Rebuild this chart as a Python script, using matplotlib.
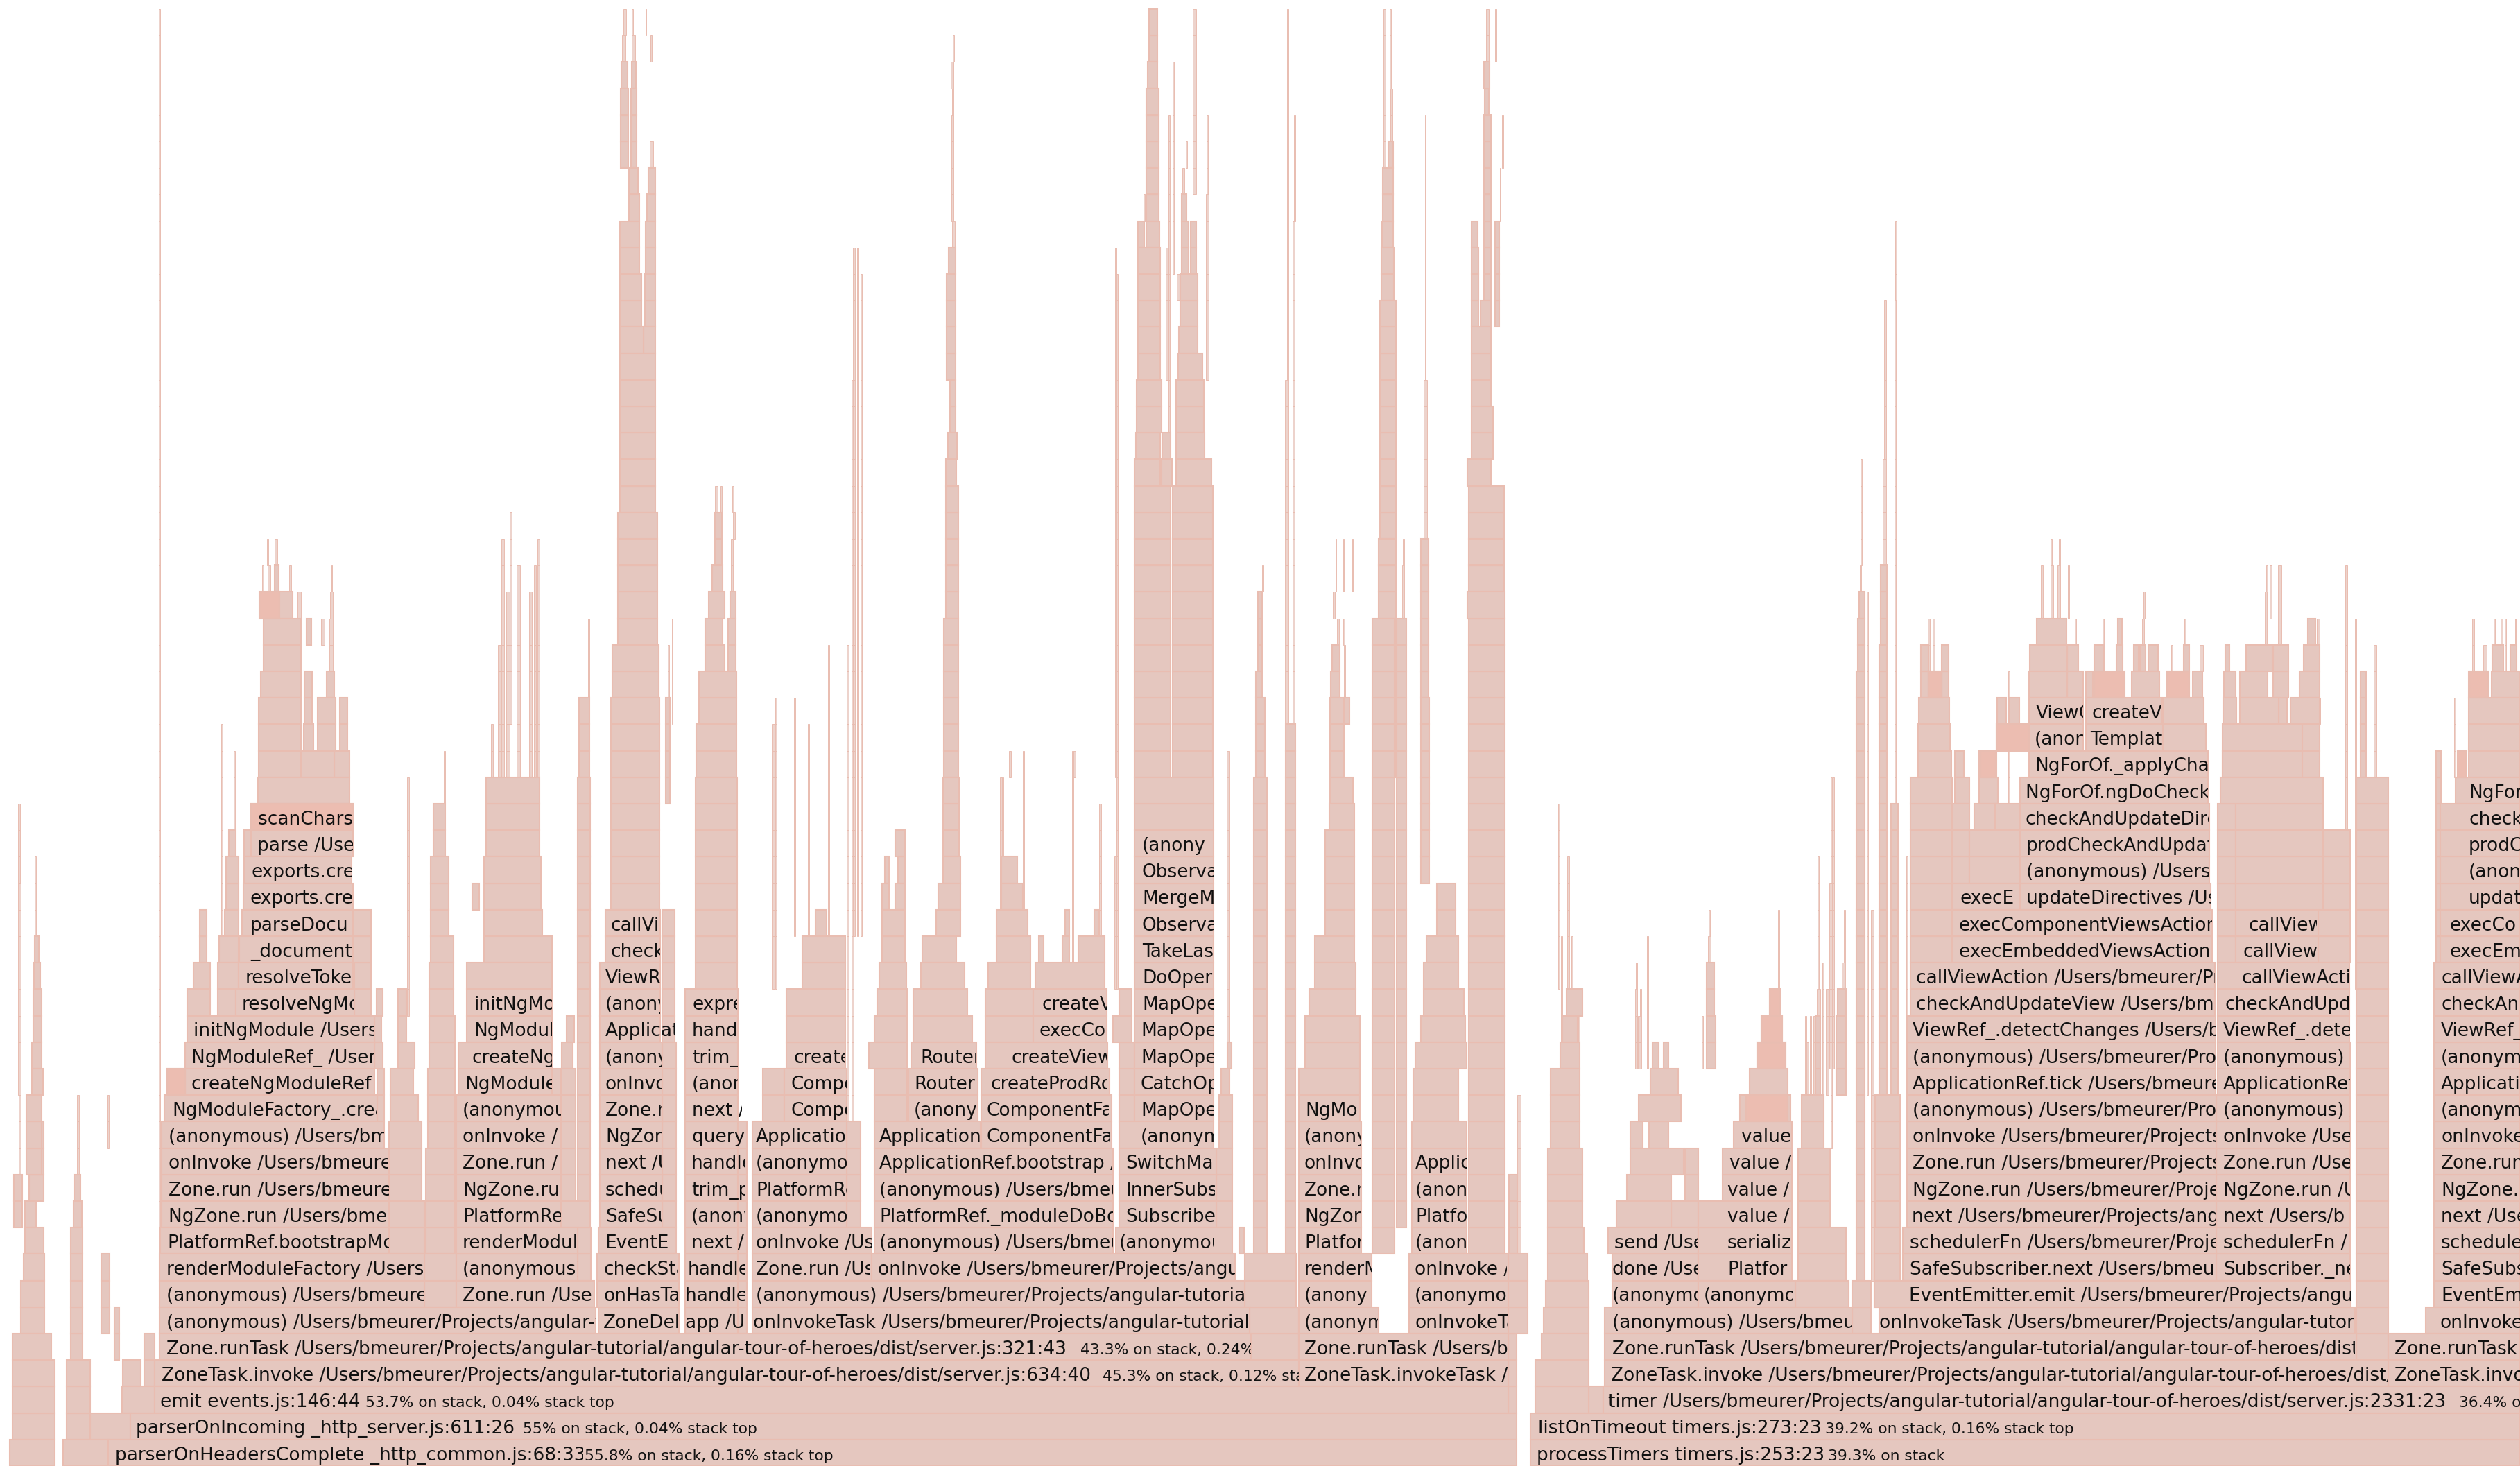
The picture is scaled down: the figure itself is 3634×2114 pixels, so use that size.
#!/usr/bin/env python3
# Flame graph of a node server profile, frames.
# A frame run is (start sample, end sample, lowest depth, highest depth).

import matplotlib
matplotlib.use("Agg")
import matplotlib.pyplot as plt
from matplotlib.patches import Rectangle

TOTAL_SAMPLES = 3634
ROW_PX = 38.2
FILL = "#e5c7bf"
EDGE = "#e9bdb1"
SPIKE = "#edd3cc"
HOT = "#ecbdb1"

##! base of the stack
base_frames = [
    (156, 2187, 0, 0), (91, 156, 0, 0), (14, 79, 0, 0), (2207, 3634, 0, 0),
    (188, 2187, 1, 1), (96, 130, 1, 1), (130, 188, 1, 1), (18, 79, 1, 3), (2207, 3634, 1, 1),
    (223, 2175, 2, 2), (2175, 2187, 2, 2), (176, 223, 2, 2), (96, 130, 2, 3), (2312, 3634, 2, 2),
    (2214, 2291, 2, 3), (2291, 2312, 2, 2),
    (223, 1873, 3, 3), (1873, 2175, 3, 3), (177, 203, 3, 3), (208, 223, 3, 4),
    (2314, 3444, 3, 3), (3444, 3634, 3, 3), (2175, 2187, 3, 4),
    (230, 1804, 4, 4), (1804, 1873, 4, 4), (1873, 2175, 4, 4), (2314, 3398, 4, 4),
    (3398, 3444, 4, 4), (3444, 3634, 4, 4), (2223, 2291, 4, 4), (2175, 2203, 5, 7),
    (18, 74, 4, 4), (102, 119, 4, 8), (165, 172, 4, 5), (1802, 1873, 5, 5),
    (2226, 2291, 5, 5), (2229, 2291, 6, 6), (2232, 2289, 7, 7), (2232, 2284, 8, 8),
    (2232, 2282, 9, 11), (2236, 2278, 12, 14), (2250, 2278, 15, 15), (2253, 2275, 16, 16), (2259, 2282, 17, 17),
    (30, 64, 5, 6), (34, 64, 7, 7), (36, 63, 8, 8), (20, 32, 9, 10), (36, 52, 9, 9),
    (42, 63, 10, 12), (38, 60, 11, 13), (46, 62, 14, 14), (46, 60, 15, 15), (48, 60, 16, 17),
    (49, 58, 18, 18), (50, 56, 19, 19), (50, 52, 20, 22), (26, 29, 14, 24), (27, 30, 10, 21),
    (146, 158, 5, 7), (106, 118, 8, 9), (107, 116, 10, 10), (111, 114, 11, 13), (155, 157, 12, 13),
]

##! bootstrap tower on the left
bootstrap_frames = [
    (230, 859, 5, 5), (230, 612, 6, 7), (612, 658, 6, 7), (658, 857, 6, 6), (658, 833, 7, 8),
    (833, 852, 7, 8), (231, 561, 8, 8), (561, 612, 8, 9), (614, 656, 8, 11),
    (233, 561, 9, 11), (658, 809, 9, 13), (809, 851, 9, 9), (561, 608, 10, 12),
    (617, 656, 12, 14), (809, 830, 10, 14), (833, 851, 10, 25), (233, 554, 12, 12),
    (237, 544, 13, 13), (544, 554, 13, 14), (563, 603, 13, 13), (563, 596, 14, 14),
    (241, 267, 14, 14), (267, 540, 14, 15), (540, 552, 15, 15), (574, 598, 15, 15),
    (661, 796, 14, 15), (796, 809, 14, 14), (810, 826, 15, 15), (619, 656, 15, 16),
    (270, 540, 16, 16), (540, 550, 16, 16), (574, 586, 16, 17), (673, 796, 16, 17),
    (817, 828, 16, 16), (270, 303, 17, 17), (314, 340, 17, 17), (340, 511, 17, 17),
    (511, 535, 17, 18), (543, 552, 17, 17), (619, 654, 17, 18), (279, 303, 18, 18),
    (314, 344, 18, 18), (344, 509, 18, 18), (673, 796, 18, 18), (288, 298, 19, 20),
    (316, 344, 19, 19), (345, 509, 19, 19), (509, 535, 19, 20), (621, 654, 19, 19), (698, 796, 19, 19),
    (324, 344, 20, 20), (349, 509, 20, 20), (621, 647, 20, 21), (698, 782, 20, 20), (681, 691, 21, 21),
    (326, 344, 21, 21), (351, 509, 21, 21), (698, 780, 21, 22), (326, 344, 22, 22), (352, 507, 22, 22),
    (621, 647, 22, 22), (330, 340, 23, 23), (352, 362, 23, 23), (362, 509, 23, 24), (625, 642, 23, 24),
    (701, 778, 23, 25), (372, 504, 25, 25), (373, 434, 26, 28), (434, 482, 26, 26), (482, 504, 26, 26),
    (438, 452, 27, 27), (458, 484, 27, 28), (490, 501, 27, 28), (439, 450, 28, 29), (376, 434, 29, 29),
    (471, 482, 29, 29), (380, 434, 30, 31), (442, 449, 31, 31), (463, 468, 31, 31), (475, 480, 30, 31),
    (394, 422, 32, 32), (429, 434, 32, 32), (476, 480, 32, 32), (378, 380, 33, 33), (386, 390, 33, 33),
    (396, 402, 33, 33), (417, 420, 33, 33), (478, 479, 33, 33), (385, 387, 34, 34), (396, 400, 34, 34),
    (229, 231, 5, 54), (319, 321, 20, 27), (337, 339, 20, 26), (587, 590, 17, 25), (708, 711, 24, 27),
    (718, 722, 24, 30), (730, 735, 24, 32), (723, 727, 26, 34), (745, 750, 26, 33), (735, 738, 28, 35),
    (763, 767, 26, 32), (770, 773, 26, 33), (775, 778, 25, 34), (640, 642, 25, 26),
    (835, 850, 26, 28), (848, 850, 28, 31),
]

##! tallest tower and its neighbours
ngzone_frames = [
    (863, 979, 5, 5), (861, 979, 6, 7), (863, 975, 8, 8), (865, 955, 9, 15), (955, 975, 9, 15),
    (865, 952, 16, 18), (955, 973, 16, 20), (873, 952, 19, 20), (881, 951, 21, 28), (883, 950, 29, 30),
    (891, 948, 31, 35), (894, 945, 36, 41), (894, 928, 42, 42), (928, 945, 42, 42),
    (894, 925, 43, 44), (930, 945, 43, 44), (894, 922, 45, 46), (931, 945, 45, 46),
    (907, 922, 47, 47), (933, 945, 47, 47), (907, 920, 48, 48), (935, 945, 48, 48),
    (895, 906, 49, 51), (910, 918, 49, 51), (937, 942, 49, 49), (896, 905, 52, 52), (911, 917, 52, 52),
    (897, 902, 53, 53), (911, 916, 53, 53), (938, 940, 53, 53), (899, 903, 54, 54), (911, 913, 54, 54), (931, 932, 54, 54),
    (960, 966, 25, 28), (963, 965, 29, 30), (969, 970, 28, 31),
    (988, 1064, 5, 17), (1064, 1077, 5, 12), (992, 1000, 5, 7), (1003, 1063, 18, 25),
    (1004, 1062, 26, 27), (1008, 1062, 28, 29), (1017, 1045, 29, 30), (1050, 1061, 30, 31),
    (1017, 1042, 31, 31), (1022, 1045, 32, 32), (1053, 1061, 32, 32), (1027, 1042, 33, 33),
    (1054, 1057, 33, 34), (1031, 1041, 34, 35), (1057, 1060, 35, 35), (1031, 1035, 36, 36),
    (1039, 1041, 36, 36), (1056, 1058, 36, 36),
    (1113, 1117, 18, 27), (1118, 1120, 18, 28), (1145, 1147, 20, 28), (1165, 1167, 20, 27), (1194, 1196, 20, 30),
]

##! middle towers, ApplicationRef and RxJS
app_frames = [
    (1085, 1802, 5, 5), (1085, 1795, 6, 6), (1795, 1869, 6, 7), (1085, 1257, 7, 8), (1257, 1781, 7, 7),
    (1261, 1605, 8, 11), (1609, 1777, 8, 8), (1787, 1794, 8, 8), (1085, 1221, 9, 12), (1221, 1241, 9, 12),
    (1614, 1754, 9, 11), (1754, 1777, 9, 11), (1261, 1414, 12, 12), (1415, 1603, 12, 13), (1614, 1750, 12, 12),
    (1758, 1777, 12, 13), (1100, 1131, 13, 14), (1131, 1221, 13, 14), (1261, 1308, 13, 14), (1310, 1410, 13, 14),
    (1415, 1600, 14, 14), (1614, 1636, 13, 15), (1636, 1750, 13, 25), (1761, 1773, 14, 14), (1770, 1776, 15, 15),
    (1134, 1219, 15, 17), (1253, 1308, 15, 15), (1314, 1408, 15, 15), (1421, 1597, 15, 15),
    (1261, 1308, 16, 16), (1317, 1402, 16, 16), (1421, 1490, 16, 16), (1490, 1596, 16, 17),
    (1605, 1632, 16, 16), (1265, 1308, 17, 17), (1317, 1395, 17, 17), (1421, 1490, 17, 17),
    (1614, 1632, 17, 17), (1157, 1219, 18, 19), (1268, 1307, 18, 18), (1328, 1391, 18, 18),
    (1425, 1486, 18, 18), (1493, 1593, 18, 18), (1272, 1305, 19, 20), (1330, 1379, 19, 19),
    (1437, 1486, 19, 19), (1498, 1505, 19, 19), (1532, 1542, 19, 19), (1555, 1593, 19, 19),
    (1176, 1192, 20, 20), (1350, 1385, 20, 20), (1437, 1482, 20, 20), (1536, 1542, 20, 20), (1578, 1584, 20, 20),
    (1272, 1282, 21, 21), (1291, 1305, 21, 21), (1353, 1385, 21, 21), (1444, 1475, 21, 21), (1276, 1282, 22, 22),
    (1295, 1305, 22, 22), (1360, 1385, 22, 22), (1444, 1467, 22, 22), (1291, 1305, 23, 23), (1360, 1383, 23, 25),
    (1361, 1382, 26, 31), (1364, 1382, 32, 36), (1364, 1379, 37, 37), (1367, 1380, 38, 38), (1370, 1378, 39, 40),
    (1365, 1378, 41, 44), (1368, 1378, 45, 45), (1373, 1377, 46, 46), (1372, 1375, 47, 50), (1373, 1375, 51, 51),
    (1371, 1375, 52, 52), (1374, 1376, 53, 53),
    (1221, 1224, 13, 30), (1228, 1231, 13, 40), (1230, 1233, 20, 45), (1236, 1238, 20, 45), (1241, 1243, 20, 44),
    (1445, 1447, 18, 25), (1475, 1477, 18, 26), (1546, 1548, 18, 26), (1610, 1612, 18, 24), (1607, 1610, 18, 22),
    (1608, 1610, 26, 45), (1610, 1612, 22, 44), (1585, 1588, 16, 24),
    (1636, 1688, 26, 36), (1691, 1749, 26, 36), (1636, 1673, 37, 37), (1675, 1690, 37, 37), (1696, 1747, 37, 37),
    (1638, 1673, 38, 38), (1676, 1688, 38, 38), (1696, 1737, 38, 38), (1639, 1675, 39, 40), (1696, 1736, 39, 40),
    (1641, 1673, 41, 45), (1681, 1685, 41, 45), (1699, 1734, 41, 41), (1700, 1727, 42, 42), (1702, 1727, 43, 43),
    (1697, 1701, 44, 44), (1702, 1727, 44, 44), (1704, 1714, 45, 46), (1717, 1725, 45, 46), (1641, 1650, 46, 46),
    (1653, 1672, 46, 46), (1649, 1651, 47, 47), (1653, 1671, 47, 51), (1704, 1711, 47, 47), (1705, 1708, 48, 48),
    (1710, 1712, 49, 49), (1720, 1725, 48, 54), (1655, 1669, 52, 52), (1657, 1669, 53, 54), (1691, 1693, 45, 52),
    (1739, 1743, 41, 47), (1740, 1742, 47, 50), (1685, 1687, 38, 50),
    (1442, 1445, 18, 25), (1455, 1458, 26, 26), (1548, 1551, 26, 26),
    (1769, 1773, 16, 26), (1808, 1827, 5, 25), (1811, 1824, 26, 28), (1811, 1820, 29, 29), (1814, 1820, 30, 32),
    (1820, 1822, 33, 33), (1854, 1868, 5, 27), (1853, 1858, 28, 40), (1856, 1858, 41, 54), (1864, 1867, 28, 46),
    (1866, 1868, 47, 50),
    (1873, 1988, 5, 5), (1873, 1978, 6, 7), (1873, 1963, 8, 12), (1873, 1961, 13, 14), (1873, 1884, 14, 14),
    (1882, 1961, 15, 16), (1888, 1955, 17, 17), (1896, 1955, 18, 18), (1896, 1953, 19, 19), (1911, 1953, 20, 23),
    (1917, 1953, 24, 24), (1918, 1951, 25, 25), (1918, 1938, 26, 28), (1938, 1946, 28, 28), (1919, 1932, 29, 29),
    (1921, 1932, 30, 30), (1938, 1940, 29, 30), (1928, 1931, 31, 31), (1937, 1939, 31, 31), (1922, 1925, 32, 32),
    (1926, 1927, 33, 34), (1937, 1938, 33, 34), (1950, 1951, 33, 34),
    (1979, 2011, 8, 31), (2014, 2028, 9, 31), (1986, 2013, 26, 30), (1988, 2013, 31, 34), (1990, 2013, 35, 43),
    (1992, 2010, 44, 45), (1993, 2009, 46, 46), (1994, 2009, 47, 48), (2002, 2009, 49, 49), (2005, 2008, 50, 51),
    (1995, 1998, 49, 54), (2004, 2006, 52, 54), (2017, 2027, 26, 28), (2021, 2027, 29, 30), (2022, 2025, 31, 33),
    (2023, 2025, 34, 34),
    (2032, 2175, 5, 7), (2036, 2115, 8, 12), (2038, 2103, 13, 14), (2041, 2115, 15, 15), (2049, 2113, 16, 16),
    (2053, 2111, 17, 17), (2053, 2103, 18, 18), (2057, 2103, 19, 19), (2072, 2099, 20, 21), (2049, 2061, 22, 28),
    (2049, 2060, 29, 34), (2053, 2058, 35, 40), (2055, 2056, 41, 50), (2118, 2170, 8, 31),
    (2116, 2170, 32, 32), (2118, 2169, 33, 36), (2116, 2150, 37, 37), (2122, 2153, 38, 39), (2122, 2150, 40, 42),
    (2122, 2132, 43, 45), (2135, 2150, 43, 43), (2140, 2150, 44, 45), (2156, 2162, 43, 46), (2122, 2131, 46, 46),
    (2140, 2150, 46, 50), (2163, 2164, 47, 48), (2141, 2147, 51, 51), (2140, 2148, 52, 52), (2143, 2147, 53, 54),
    (2156, 2158, 53, 54), (2166, 2168, 49, 50),
    (2176, 2188, 8, 10), (2188, 2193, 8, 13),
]

##! towers under timer
timer_frames = [
    (2314, 2671, 5, 5), (2671, 2698, 5, 6), (2325, 2449, 6, 6), (2449, 2589, 6, 6), (2589, 2666, 6, 6),
    (2325, 2449, 7, 7), (2449, 2584, 7, 8), (2593, 2662, 7, 8), (2319, 2449, 8, 8), (2331, 2410, 9, 9),
    (2410, 2449, 9, 9), (2449, 2584, 9, 9), (2593, 2639, 9, 11), (2346, 2410, 10, 10), (2430, 2449, 10, 11),
    (2484, 2584, 10, 11), (2351, 2428, 11, 11), (2351, 2369, 12, 12), (2378, 2406, 12, 12), (2500, 2584, 12, 12),
    (2598, 2630, 12, 13), (2363, 2424, 13, 13), (2509, 2582, 13, 13), (2380, 2420, 14, 14), (2523, 2578, 14, 14),
    (2383, 2392, 15, 15), (2399, 2406, 15, 15), (2534, 2575, 15, 15), (2540, 2570, 16, 16), (2552, 2567, 17, 17),
    (2247, 2249, 18, 24), (2260, 2263, 18, 22), (2251, 2253, 15, 19), (2266, 2268, 15, 19), (2263, 2268, 15, 16),
    (2276, 2278, 15, 16), (2375, 2377, 15, 19), (2359, 2361, 15, 18), (2358, 2360, 15, 17), (2365, 2367, 15, 17),
    (2362, 2366, 15, 16), (2454, 2456, 15, 16), (2461, 2474, 15, 16), (2461, 2472, 17, 18), (2463, 2467, 19, 19),
    (2464, 2466, 20, 20), (2564, 2566, 18, 20), (2603, 2605, 14, 16), (2610, 2612, 14, 16), (2618, 2625, 14, 16),
    (2620, 2625, 17, 17), (2621, 2623, 18, 22), (2638, 2640, 15, 21), (2643, 2645, 15, 25), (2659, 2661, 19, 20),
    (2656, 2661, 18, 18), (2650, 2662, 17, 17), (2648, 2662, 14, 16), (2628, 2630, 14, 18), (2633, 2637, 14, 17),
    (2640, 2642, 12, 25), (2605, 2608, 14, 15), (2615, 2617, 14, 16),
    (2677, 2689, 7, 29), (2679, 2689, 30, 31), (2681, 2689, 32, 32), (2682, 2684, 33, 33), (2683, 2685, 34, 37),
    (2692, 2694, 14, 32), (2698, 2702, 7, 20), (2703, 2740, 6, 8), (2704, 2740, 9, 13), (2710, 2721, 14, 30),
    (2712, 2721, 31, 33), (2715, 2720, 34, 37), (2717, 2720, 38, 43), (2732, 2734, 14, 45), (2733, 2735, 44, 46),
    (2727, 2737, 14, 24), (2749, 2751, 14, 22),
    (2710, 3396, 5, 5), (2703, 3390, 6, 6), (2744, 3196, 7, 8), (2750, 3196, 9, 13), (2750, 3195, 14, 16),
    (2755, 3194, 17, 18), (2755, 2815, 19, 22), (2815, 3190, 19, 20), (2815, 2913, 21, 21), (2913, 3188, 21, 21),
    (2815, 2840, 22, 22), (2840, 2913, 22, 22), (2913, 3186, 22, 24), (2755, 2815, 23, 25), (2815, 2840, 23, 24),
    (2840, 2913, 23, 23), (2847, 2877, 24, 24), (2877, 2913, 24, 24), (2913, 3184, 25, 25), (2854, 2881, 25, 25),
    (2819, 2840, 25, 25), (2819, 2832, 26, 26), (2926, 3184, 26, 26), (2766, 2814, 26, 26), (2854, 2879, 26, 26),
    (2926, 3004, 27, 27), (3008, 3119, 27, 27), (3119, 3181, 27, 27), (2766, 2812, 27, 27), (2879, 2926, 27, 27),
    (2926, 3004, 28, 28), (3008, 3117, 28, 28), (3119, 3178, 28, 28), (2767, 2811, 28, 28), (2880, 2893, 28, 28),
    (2897, 2912, 28, 28), (2926, 2981, 29, 29), (2981, 3004, 29, 29), (3008, 3018, 29, 29), (3074, 3114, 29, 29),
    (3125, 3157, 29, 29), (3162, 3176, 29, 29), (2781, 2800, 29, 29), (2770, 2781, 29, 30), (2800, 2810, 29, 30),
    (2927, 2981, 30, 30), (2981, 2997, 30, 30), (3020, 3034, 30, 30), (3052, 3061, 30, 30), (3077, 3084, 30, 30),
    (3086, 3094, 30, 30), (3098, 3112, 30, 30), (3131, 3133, 30, 30), (3149, 3157, 30, 30), (3172, 3177, 30, 30),
    (2937, 2980, 31, 31), (2992, 2994, 31, 31), (3032, 3034, 31, 31), (3054, 3060, 31, 31), (3089, 3092, 31, 31),
    (3150, 3152, 31, 31), (2943, 2946, 32, 33), (2957, 2961, 32, 33), (2967, 2971, 32, 33), (2982, 2984, 32, 33),
    (3091, 3093, 32, 32), (2957, 2959, 34, 34), (2969, 2971, 34, 34), (2780, 2783, 30, 31), (2787, 2790, 30, 31),
    (2896, 2898, 21, 29),
    (3196, 3389, 7, 13), (3198, 3389, 14, 15), (3198, 3388, 16, 18), (3198, 3224, 19, 19), (3224, 3343, 19, 20),
    (3343, 3389, 19, 23), (3198, 3224, 20, 24), (3224, 3350, 21, 24), (3202, 3350, 25, 25), (3205, 3320, 26, 27),
    (3205, 3262, 26, 26), (3209, 3274, 27, 27), (3206, 3225, 28, 28), (3230, 3286, 28, 28), (3286, 3298, 28, 28),
    (3299, 3345, 26, 26), (3303, 3345, 27, 28), (3343, 3346, 28, 28), (3207, 3224, 29, 29), (3230, 3270, 29, 29),
    (3278, 3300, 29, 30), (3316, 3345, 29, 29), (3209, 3215, 30, 30), (3239, 3277, 30, 30), (3322, 3345, 30, 30),
    (3328, 3339, 31, 31), (3341, 3345, 31, 31), (3266, 3269, 31, 32), (3273, 3276, 32, 33), (3285, 3290, 31, 33),
    (3268, 3270, 33, 33), (3382, 3385, 20, 33), (3396, 3398, 18, 31), (3423, 3427, 20, 30), (3404, 3412, 20, 29),
    (3398, 3444, 5, 25), (3513, 3520, 15, 26),
    (3498, 3634, 5, 5), (3510, 3634, 6, 18), (3519, 3634, 19, 24), (3541, 3634, 25, 25), (3544, 3556, 26, 26),
    (3560, 3634, 26, 28), (3560, 3588, 29, 29), (3593, 3634, 29, 29), (3565, 3568, 30, 31), (3581, 3586, 30, 30),
    (3594, 3610, 30, 30), (3612, 3614, 30, 31), (3620, 3629, 30, 30), (3596, 3598, 31, 31), (3606, 3609, 31, 31),
    (3627, 3628, 31, 31), (3539, 3541, 26, 28),
]

##! depth, start sample, frame name, sample where the frame ends
frame_depths = [24, 23, 22, 21, 20, 19, 18, 17, 16, 15, 14, 13, 12, 11, 10, 9, 8, 7, 6, 5]
scan_names = ["scanChars /Users", "parse /Users", "exports.createDocument", "exports.createDocument", "parseDocument",
              "_document /Users", "resolveToken /Users", "resolveNgModuleDep", "initNgModule /Users/bmeurer",
              "NgModuleRef_ /Users/bmeurer", "createNgModuleRef /Users", "NgModuleFactory_.create /Users",
              "(anonymous) /Users/bmeurer", "onInvoke /Users/bmeurer/Projects", "Zone.run /Users/bmeurer/Projects",
              "NgZone.run /Users/bmeurer/Projects", "PlatformRef.bootstrapModuleFactory",
              "renderModuleFactory /Users/bmeurer", "(anonymous) /Users/bmeurer/Projects",
              "(anonymous) /Users/bmeurer/Projects/angular-tutorial"]
scan_starts = [372, 371, 362, 361, 361, 361, 354, 349, 279, 276, 276, 248, 243, 243, 243, 243, 241, 240, 240, 240]
scan_ends = [509, 509, 507, 509, 509, 509, 509, 511, 540, 540, 540, 544, 554, 559, 561, 561, 561, 612, 612, 859]

labels = [
    (17, 683, "initNgModule /Users", 796), (16, 683, "NgModuleRef_", 796), (15, 681, "createNgModuleRef", 796),
    (14, 670, "NgModuleFactory_", 796), (13, 667, "(anonymous) /Users", 809), (12, 667, "onInvoke /Users", 809),
    (11, 667, "Zone.run /Users", 809), (10, 667, "NgZone.run /Users", 809), (9, 667, "PlatformRef.bootstrap", 809),
    (8, 667, "renderModuleFactory", 833), (7, 667, "(anonymous) /Users", 833), (6, 667, "Zone.run /Users/bmeurer", 857),
    (20, 881, "callViewAction", 952), (19, 881, "checkAndUpdate", 952), (18, 873, "ViewRef_", 952),
    (17, 873, "(anonymous)", 952), (16, 873, "ApplicationRef", 973), (15, 873, "(anonymous)", 955),
    (14, 873, "onInvoke", 955), (13, 873, "Zone.run", 955), (12, 873, "NgZone.run", 955), (11, 873, "next /Users", 955),
    (10, 873, "schedulerFn", 955), (9, 873, "SafeSubscriber", 955), (8, 872, "EventEmitter", 975),
    (7, 871, "checkStable /Users", 978), (6, 870, "onHasTask /Users", 978), (5, 870, "ZoneDelegate", 978),
    (17, 998, "expressInit", 1063), (16, 998, "handle /Users", 1064), (15, 998, "trim_prefix", 1064),
    (14, 998, "(anonymous)", 1064), (13, 998, "next /Users", 1070), (12, 998, "query /Users", 1077),
    (11, 997, "handle /Users", 1075), (10, 997, "trim_prefix", 1075), (9, 997, "(anonymous)", 1075),
    (8, 997, "next /Users", 1073), (7, 992, "handle /Users", 1075), (6, 988, "handle /Users", 1075),
    (5, 988, "app /Users", 1075), (15, 1144, "createView", 1219), (14, 1141, "ComponentFactory", 1221),
    (13, 1141, "ComponentFactory", 1221), (12, 1090, "ApplicationRef", 1221), (11, 1090, "(anonymous) /Users", 1221),
    (10, 1090, "PlatformRef._module", 1221), (9, 1090, "(anonymous) /Users", 1221), (8, 1090, "onInvoke /Users", 1257),
    (7, 1090, "Zone.run /Users", 1254), (6, 1090, "(anonymous) /Users/bmeurer/Projects/angular-tutorial/angular", 1795),
    (5, 1086, "onInvokeTask /Users/bmeurer/Projects/angular-tutorial/angular", 1802), (15, 1327, "RouterModule", 1408),
    (14, 1318, "RouterInitializer", 1408), (13, 1318, "(anonymous) /Users", 1410), (12, 1268, "ApplicationInitStatus", 1414),
    (11, 1268, "ApplicationRef.bootstrap /Users/bmeurer", 1603), (10, 1268, "(anonymous) /Users/bmeurer/Projects", 1605),
    (9, 1268, "PlatformRef._moduleDoBootstrap /Users", 1605), (8, 1268, "(anonymous) /Users/bmeurer/Projects", 1605),
    (7, 1266, "onInvoke /Users/bmeurer/Projects/angular-tutorial", 1781), (17, 1502, "createViewNodes", 1596),
    (16, 1499, "execComponentViews", 1596), (15, 1458, "createViewNodes", 1597), (14, 1428, "createProdRootView", 1597),
    (13, 1423, "ComponentFactory_", 1599), (12, 1423, "ComponentFactory_", 1600), (23, 1647, "(anonymous)", 1750),
    (22, 1647, "Observable", 1750), (21, 1647, "MergeMapSubscriber", 1750), (20, 1647, "Observable", 1750),
    (19, 1647, "TakeLastOperator", 1750), (18, 1647, "DoOperator", 1750), (17, 1647, "MapOperator", 1750),
    (16, 1645, "MapOperator", 1750), (15, 1645, "MapOperator", 1750), (14, 1645, "CatchOperator", 1750),
    (13, 1645, "MapOperator", 1750), (12, 1645, "(anonymous)", 1750), (11, 1623, "SwitchMapSubscriber", 1752),
    (10, 1623, "InnerSubscriber", 1752), (9, 1623, "Subscriber._next", 1752), (8, 1614, "(anonymous) /Users", 1751),
    (13, 1882, "NgModuleRef", 1958), (12, 1881, "(anonymous)", 1962), (11, 1881, "onInvoke", 1963), (10, 1881, "Zone.run", 1962),
    (9, 1881, "NgZone.run", 1963), (8, 1881, "PlatformRef", 1963), (7, 1881, "renderModule", 1978), (6, 1881, "(anonymous)", 1978),
    (5, 1881, "(anonymous) /Users", 1987), (4, 1881, "Zone.runTask /Users/bmeurer/Projects", 2175),
    (3, 1881, "ZoneTask.invokeTask /Users/bmeurer", 2175), (11, 2041, "ApplicationRef", 2115), (10, 2041, "(anonymous)", 2115),
    (9, 2041, "PlatformRef", 2115), (8, 2041, "(anonymous)", 2115), (7, 2040, "onInvoke /Users/bmeurer", 2173),
    (6, 2040, "(anonymous) /Users", 2175), (5, 2040, "onInvokeTask /Users", 2175),
    (12, 2511, "value /Users", 2584), (11, 2494, "value /Users", 2584), (10, 2491, "value /Users", 2584), (9, 2491, "value /Users", 2584),
    (8, 2491, "serializeResponse", 2584), (7, 2491, "PlatformServer", 2584), (6, 2457, "(anonymous) /Users", 2586),
    (8, 2328, "send /Users/bmeurer", 2449), (7, 2325, "done /Users/bmeurer", 2449), (6, 2325, "(anonymous) /Users", 2448),
    (5, 2325, "(anonymous) /Users/bmeurer/Projects", 2671),
    (4, 2325, "Zone.runTask /Users/bmeurer/Projects/angular-tutorial/angular-tour-of-heroes/dist/server.js", 3396),
    (3, 2323, "ZoneTask.invoke /Users/bmeurer/Projects/angular-tutorial/angular-tour-of-heroes/dist/server.js", 3444),
    (5, 2710, "onInvokeTask /Users/bmeurer/Projects/angular-tutorial/angular", 3396),
    (6, 2753, "EventEmitter.emit /Users/bmeurer/Projects/angular-tutorial", 3390), (7, 2754, "SafeSubscriber.next /Users/bmeurer/Projects", 3196),
    (8, 2754, "schedulerFn /Users/bmeurer/Projects/angular", 3196), (9, 2757, "next /Users/bmeurer/Projects/angular-tutorial", 3196),
    (10, 2758, "NgZone.run /Users/bmeurer/Projects/angular", 3196), (11, 2758, "Zone.run /Users/bmeurer/Projects/angular", 3196),
    (12, 2758, "onInvoke /Users/bmeurer/Projects/angular", 3196), (13, 2758, "(anonymous) /Users/bmeurer/Projects/angular", 3196),
    (14, 2758, "ApplicationRef.tick /Users/bmeurer/Projects", 3196), (15, 2758, "(anonymous) /Users/bmeurer/Projects/angular", 3195),
    (16, 2758, "ViewRef_.detectChanges /Users/bmeurer/Projects", 3195), (17, 2763, "checkAndUpdateView /Users/bmeurer/Projects", 3194),
    (18, 2763, "callViewAction /Users/bmeurer/Projects", 3194), (19, 2825, "execEmbeddedViewsAction /Users", 3190),
    (20, 2825, "execComponentViewsAction /Users", 3190), (21, 2826, "execEmbeddedViews", 2913), (21, 2922, "updateDirectives /Users/bmeurer", 3188),
    (22, 2922, "(anonymous) /Users/bmeurer", 3186), (23, 2922, "prodCheckAndUpdateNode", 3186), (24, 2921, "checkAndUpdateDirectiveInline", 3186),
    (25, 2921, "NgForOf.ngDoCheck /Users", 3184), (26, 2934, "NgForOf._applyChanges /Users", 3184), (27, 2934, "(anonymous)", 3004),
    (27, 3014, "TemplateRef_", 3119), (28, 2936, "ViewContainerRef", 3004), (28, 3017, "createViewNodes", 3117),
    (7, 3206, "Subscriber._next /Users", 3389), (8, 3206, "schedulerFn /Users/bmeurer", 3389), (9, 3206, "next /Users/bmeurer/Projects", 3389),
    (10, 3206, "NgZone.run /Users/bmeurer", 3389), (11, 3206, "Zone.run /Users/bmeurer", 3389), (12, 3206, "onInvoke /Users/bmeurer", 3389),
    (13, 3206, "(anonymous) /Users/bmeurer", 3389), (14, 3206, "ApplicationRef.tick", 3389), (15, 3206, "(anonymous) /Users/bmeurer", 3389),
    (16, 3206, "ViewRef_.detectChanges", 3389), (17, 3208, "checkAndUpdateView", 3389), (18, 3233, "callViewAction /Users", 3389),
    (19, 3234, "callViewAction /Users", 3343), (20, 3243, "callViewAction", 3341),
    (25, 3560, "NgForOf.ngDoCheck", 3634), (24, 3560, "checkAndUpdate", 3634), (23, 3560, "prodCheckAndUpdate", 3634),
    (22, 3560, "(anonymous)", 3634), (21, 3560, "updateDirectives", 3634), (20, 3533, "execComponentViews", 3634),
    (19, 3533, "execEmbeddedViews", 3634), (18, 3520, "callViewAction /Users", 3634), (17, 3520, "checkAndUpdateView", 3634),
    (16, 3520, "ViewRef_.detectChanges", 3634), (15, 3520, "(anonymous) /Users", 3634), (14, 3520, "ApplicationRef.tick", 3634),
    (13, 3520, "(anonymous) /Users", 3634), (12, 3520, "onInvoke /Users/bmeurer", 3634), (11, 3520, "Zone.run /Users", 3634),
    (10, 3520, "NgZone.run /Users", 3634), (9, 3520, "next /Users/bmeurer", 3634), (8, 3520, "schedulerFn /Users", 3634),
    (7, 3520, "SafeSubscriber.next", 3634), (6, 3520, "EventEmitter.emit", 3634), (5, 3519, "onInvokeTask /Users", 3634),
    (4, 3453, "Zone.runTask /Users/bmeurer/Projects", 3634), (3, 3453, "ZoneTask.invokeTask /Users/bmeurer", 3634),
]

##! frames on the bottom rows carry stack percentages too
stat_labels = [
    (0, 166, "parserOnHeadersComplete _http_common.js:68:33", 843, "55.8% on stack, 0.16% stack top", 2187),
    (1, 196, "parserOnIncoming _http_server.js:611:26", 754, "55% on stack, 0.04% stack top", 2187),
    (2, 231, "emit events.js:146:44", 527, "53.7% on stack, 0.04% stack top", 2175),
    (3, 233, "ZoneTask.invoke /Users/bmeurer/Projects/angular-tutorial/angular-tour-of-heroes/dist/server.js:634:40",
     1590, "45.3% on stack, 0.12% stack top", 1873),
    (4, 240, "Zone.runTask /Users/bmeurer/Projects/angular-tutorial/angular-tour-of-heroes/dist/server.js:321:43",
     1558, "43.3% on stack, 0.24% stack top", 1804),
    (0, 2216, "processTimers timers.js:253:23", 2636, "39.3% on stack", 3634),
    (1, 2218, "listOnTimeout timers.js:273:23", 2632, "39.2% on stack, 0.16% stack top", 3634),
    (2, 2319, "timer /Users/bmeurer/Projects/angular-tutorial/angular-tour-of-heroes/dist/server.js:2331:23",
     3546, "36.4% on stack, 0.2% stack top", 3634),
]

##! frames that burn more self time, drawn in a stronger tint
hot_frames = [
    (374, 403, 32, 32), (241, 267, 14, 14), (362, 509, 24, 24), (2781, 2800, 29, 29), (2879, 2926, 27, 27),
    (2856, 2878, 26, 26), (3020, 3064, 29, 29), (3125, 3157, 29, 29), (2518, 2578, 13, 13), (2534, 2575, 15, 15),
    (2540, 2570, 16, 16), (2552, 2567, 17, 17), (3561, 3588, 29, 29), (3544, 3556, 26, 26),
]


def draw_run(ax, run, fill=None):
    x0, x1, lo, hi = run
    width = x1 - x0
    if width <= 0:
        return
    thin = width < 6
    face = fill or (SPIKE if thin else FILL)
    for depth in range(lo, hi + 1):
        ax.add_patch(Rectangle((x0, depth), width, 1, facecolor=face, edgecolor=EDGE,
                               linewidth=0.7 if thin else 1.5, zorder=2 + (1 if fill else 0)))


def draw_label(ax, depth, x, text, end, size=19):
    t = ax.text(x, depth + 0.22, text, fontsize=size, color="#111111", va="baseline", ha="left",
                zorder=5, clip_on=True)
    t.set_clip_path(Rectangle((x, depth), end - x, 1, transform=ax.transData))
    # frame names stop about one glyph past the frame, the clip cuts the rest
    renderer = ax.figure.canvas.get_renderer()
    while len(text) > 1 and t.get_window_extent(renderer).x1 > end + 14:
        text = text[:-1]
        t.set_text(text)
    return t


fig = plt.figure(figsize=(36.34, 21.14), dpi=100)
ax = fig.add_axes([0, 0, 1, 1])
ax.set_xlim(0, TOTAL_SAMPLES)
ax.set_ylim(0, 2114 / ROW_PX)
ax.axis("off")

##! narrow frames first so the wide ones keep their outline
all_runs = base_frames + bootstrap_frames + ngzone_frames + app_frames + timer_frames
all_runs.sort(key=lambda r: r[1] - r[0])
for run in all_runs:
    draw_run(ax, run)
for run in hot_frames:
    draw_run(ax, run, fill=HOT)

for depth, x, text, end in zip(frame_depths, scan_starts, scan_names, scan_ends):
    draw_label(ax, depth, x, text, end)
for depth, x, text, end in labels:
    draw_label(ax, depth, x, text, end)
for depth, x, text, stat_x, stat, end in stat_labels:
    draw_label(ax, depth, x, text, stat_x - 2 if stat_x < end else end)
    draw_label(ax, depth, stat_x, stat, end, size=15.7)

fig.savefig("out.png", dpi=100, facecolor="white")
